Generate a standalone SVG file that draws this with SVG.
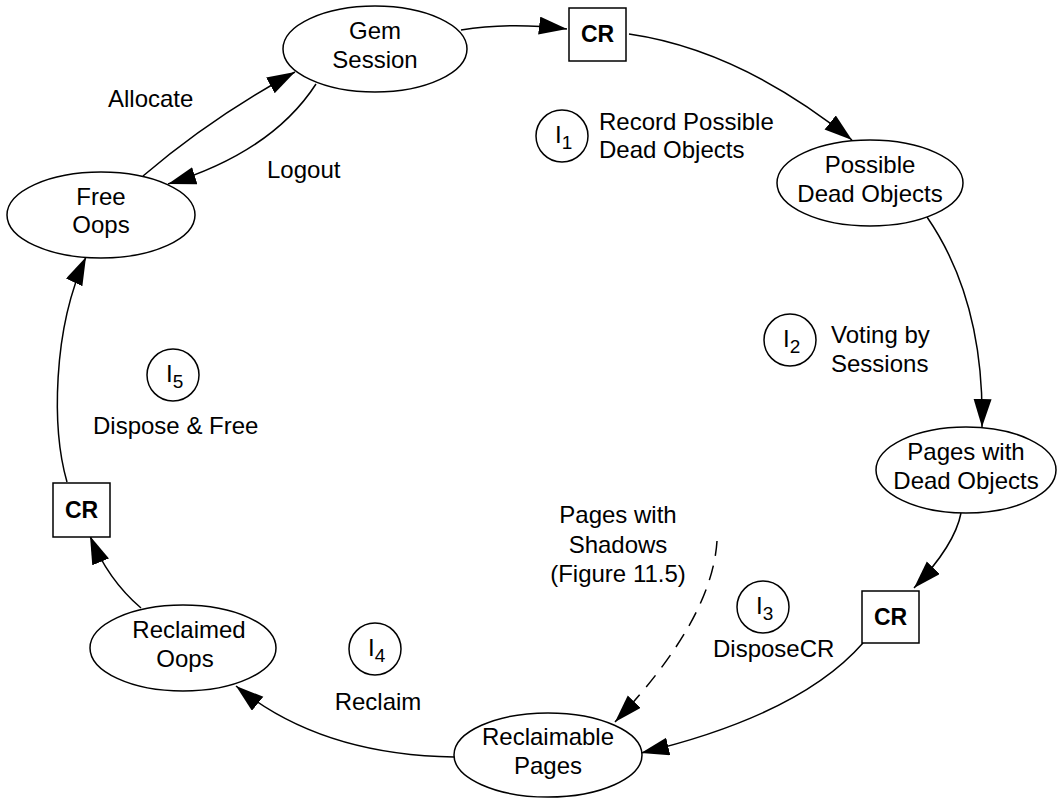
<svg xmlns="http://www.w3.org/2000/svg" width="1058" height="798" viewBox="0 0 1058 798">
  <style>
    .node { fill: #fff; stroke: #000; stroke-width: 1.5; }
    .lbl { font-family: "Liberation Sans", Arial, Helvetica, sans-serif; font-size: 24px; fill: #000; }
    .mid { text-anchor: middle; }
    .cr { font-family: "Liberation Sans", Arial, Helvetica, sans-serif; font-size: 23px; font-weight: bold; text-anchor: middle; fill: #000; }
    .sub { font-size: 19px; }
    .edge { fill: none; stroke: #000; stroke-width: 1.5; }
    .dashed { stroke-dasharray: 15 10; }
  </style>
  <defs>
    <marker id="arrow" markerUnits="userSpaceOnUse" markerWidth="30" markerHeight="20" refX="28" refY="9" orient="auto">
      <path d="M0,0 L28,9 L0,18 z" fill="#000"/>
    </marker>
  </defs>

  <rect width="1058" height="798" fill="#fff"/>

  <!-- connectors -->
  <g id="connectors">
    <path class="edge" d="M143,176 Q212,117 295,72" marker-end="url(#arrow)"/>
    <path class="edge" d="M316,84 Q272,152 168,184" marker-end="url(#arrow)"/>
    <path class="edge" d="M461,30 Q510,22 567,29" marker-end="url(#arrow)"/>
    <path class="edge" d="M629,34 Q740,50 852,140" marker-end="url(#arrow)"/>
    <path class="edge" d="M927,217 C960,265 984,330 982,427" marker-end="url(#arrow)"/>
    <path class="edge" d="M961,513 Q955,545 914,588" marker-end="url(#arrow)"/>
    <path class="edge" d="M863,643 Q800,715 641,753" marker-end="url(#arrow)"/>
    <path class="edge dashed" d="M717,541 Q712,620 615,722" marker-end="url(#arrow)"/>
    <path class="edge" d="M454,757 Q320,755 236,686" marker-end="url(#arrow)"/>
    <path class="edge" d="M141,608 Q108,580 90,536" marker-end="url(#arrow)"/>
    <path class="edge" d="M67,482 C52,430 52,330 86,257" marker-end="url(#arrow)"/>
  </g>

  <!-- state nodes -->
  <g id="gem-session">
    <ellipse class="node" cx="375" cy="49" rx="92" ry="43"/>
    <text class="lbl mid" x="375" y="39">Gem</text>
    <text class="lbl mid" x="375" y="68">Session</text>
  </g>
  <g id="free-oops">
    <ellipse class="node" cx="101" cy="215" rx="94" ry="43"/>
    <text class="lbl mid" x="101" y="205">Free</text>
    <text class="lbl mid" x="101" y="233">Oops</text>
  </g>
  <g id="possible-dead-objects">
    <ellipse class="node" cx="870" cy="183" rx="93" ry="43"/>
    <text class="lbl mid" x="870" y="173">Possible</text>
    <text class="lbl mid" x="870" y="202">Dead Objects</text>
  </g>
  <g id="pages-with-dead-objects">
    <ellipse class="node" cx="966" cy="470" rx="90" ry="43"/>
    <text class="lbl mid" x="966" y="460">Pages with</text>
    <text class="lbl mid" x="966" y="489">Dead Objects</text>
  </g>
  <g id="reclaimable-pages">
    <ellipse class="node" cx="548" cy="755" rx="94" ry="42"/>
    <text class="lbl mid" x="548" y="745">Reclaimable</text>
    <text class="lbl mid" x="548" y="774">Pages</text>
  </g>
  <g id="reclaimed-oops">
    <ellipse class="node" cx="183" cy="648" rx="93" ry="43"/>
    <text class="lbl mid" x="189" y="638">Reclaimed</text>
    <text class="lbl mid" x="185" y="667">Oops</text>
  </g>

  <!-- commit records -->
  <g id="cr-top">
    <rect class="node" x="569" y="8" width="57" height="53"/>
    <text class="cr" x="597.5" y="42">CR</text>
  </g>
  <g id="cr-right">
    <rect class="node" x="862" y="591" width="57" height="52"/>
    <text class="cr" x="890.5" y="625">CR</text>
  </g>
  <g id="cr-left">
    <rect class="node" x="53" y="483" width="57" height="54"/>
    <text class="cr" x="81.5" y="518">CR</text>
  </g>

  <!-- phase markers -->
  <g id="phase-1">
    <circle class="node" cx="562" cy="136" r="26"/>
    <text class="lbl" x="555" y="143">I<tspan class="sub" dy="6">1</tspan></text>
    <text class="lbl" x="599" y="130">Record Possible</text>
    <text class="lbl" x="599" y="158">Dead Objects</text>
  </g>
  <g id="phase-2">
    <circle class="node" cx="790" cy="340" r="26"/>
    <text class="lbl" x="783" y="347">I<tspan class="sub" dy="6">2</tspan></text>
    <text class="lbl" x="831" y="343">Voting by</text>
    <text class="lbl" x="831" y="372">Sessions</text>
  </g>
  <g id="phase-3">
    <circle class="node" cx="763" cy="607" r="26"/>
    <text class="lbl" x="756" y="614">I<tspan class="sub" dy="6">3</tspan></text>
    <text class="lbl" x="713" y="657">DisposeCR</text>
  </g>
  <g id="phase-4">
    <circle class="node" cx="375" cy="649" r="26"/>
    <text class="lbl" x="368" y="656">I<tspan class="sub" dy="6">4</tspan></text>
    <text class="lbl mid" x="378" y="710">Reclaim</text>
  </g>
  <g id="phase-5">
    <circle class="node" cx="173" cy="375" r="26"/>
    <text class="lbl" x="166" y="382">I<tspan class="sub" dy="6">5</tspan></text>
    <text class="lbl" x="93" y="434">Dispose &amp; Free</text>
  </g>

  <!-- edge labels -->
  <g id="edge-labels">
    <text class="lbl" x="108" y="107">Allocate</text>
    <text class="lbl" x="267" y="178">Logout</text>
    <text class="lbl mid" x="618" y="523">Pages with</text>
    <text class="lbl mid" x="618" y="553">Shadows</text>
    <text class="lbl mid" x="618" y="582">(Figure 11.5)</text>
  </g>
</svg>
